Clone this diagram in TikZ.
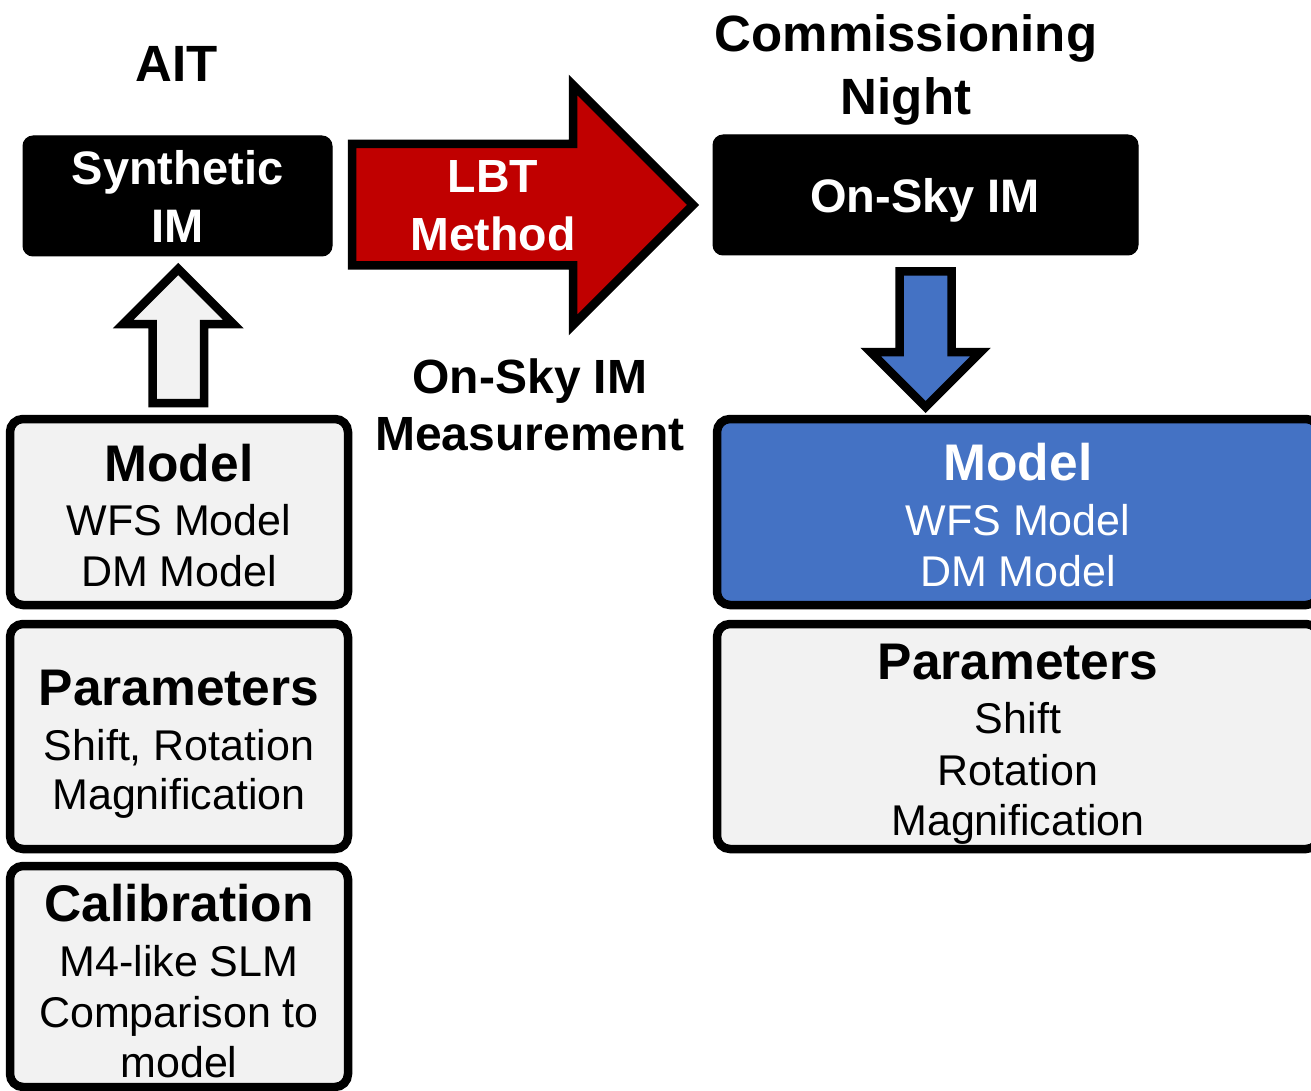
\documentclass[tikz,border=0pt]{standalone}
\usepackage{fontspec}
\setmainfont{Liberation Sans}
\definecolor{paper}{HTML}{F2F2F2}
\definecolor{lbtred}{HTML}{C00000}
\definecolor{skyblue}{HTML}{4472C4}
\begin{document}
\begin{tikzpicture}[x=1pt,y=-1pt,
  every node/.style={inner sep=0pt,outer sep=0pt},
  darkbox/.style={fill=black,draw=black,line width=1pt,rounded corners=10pt},
  framebox/.style={draw=black,line width=8.5pt,rounded corners=13pt,fill=paper},
  blockarrow/.style={draw=black,line width=8.5pt,line join=miter},
  title/.style={anchor=base,font=\fontsize{51}{60}\selectfont\bfseries},
  invtext/.style={anchor=base,text=white,font=\fontsize{47}{55}\selectfont\bfseries},
  head/.style={anchor=base,font=\fontsize{51.5}{60}\selectfont\bfseries},
  body/.style={anchor=base,font=\fontsize{43}{50}\selectfont}]
\useasboundingbox (0,0) rectangle (1311,1091);
\fill[white] (0,0) rectangle (1311,1091);

% column titles
\node[title] (ait) at (177,82) {AIT};
\node[title] (comm) at (906,52) {Commissioning};
\node[title] (night) at (906,115) {Night};

% black interaction-matrix boxes
\node[darkbox,minimum width=309pt,minimum height=120pt] (synth) at (177.5,196) {};
\node[invtext] (synthA) at (177.5,185) {Synthetic};
\node[invtext] (synthB) at (177.5,243) {IM};
\node[darkbox,minimum width=425pt,minimum height=120pt] (onsky) at (925.5,195) {};
\node[invtext] (onskyT) at (925,213) {On-Sky IM};

% red LBT method arrow
\draw[blockarrow,fill=lbtred] (352,144) -- (573,144) -- (573,85) -- (693,205)
  -- (573,325) -- (573,265.5) -- (352,265.5) -- cycle;
\node[invtext,font=\fontsize{46.5}{55}\selectfont\bfseries] (lbtA) at (493,193) {LBT};
\node[invtext,font=\fontsize{46.5}{55}\selectfont\bfseries] (lbtB) at (493,251) {Method};
\node[head,font=\fontsize{48}{56}\selectfont\bfseries] (measA) at (530,393) {On-Sky IM};
\node[head,font=\fontsize{48}{56}\selectfont\bfseries] (measB) at (530,450) {Measurement};

% left column: model, parameters, calibration
\node[framebox,minimum width=338pt,minimum height=186pt] (modelL) at (179,512) {};
\node[head] (modelLa) at (179,481) {Model};
\node[body] (modelLb) at (179,535) {WFS Model};
\node[body] (modelLc) at (179,586) {DM Model};

\node[framebox,minimum width=338pt,minimum height=225pt] (parL) at (179,736.5) {};
\node[head] (parLa) at (179,705) {Parameters};
\node[body] (parLb) at (179,760) {Shift, Rotation};
\node[body] (parLc) at (179,809) {Magnification};

\node[framebox,minimum width=338pt,minimum height=221pt] (cal) at (179,976.5) {};
\node[head] (calA) at (179,921) {Calibration};
\node[body] (calB) at (179,976) {M4-like SLM};
\node[body] (calC) at (179,1027) {Comparison to};
\node[body] (calD) at (179,1077) {model};

% grey arrow from the model up to the synthetic IM
\draw[blockarrow,fill=paper] (178.25,269) -- (233.25,324) -- (204,324) -- (204,403)
  -- (152.5,403) -- (152.5,324) -- (123.25,324) -- cycle;

% right column: fitted model and parameters
\node[framebox,fill=skyblue,minimum width=602pt,minimum height=186pt] (modelR) at (1018,512) {};
\node[head,text=white] (modelRa) at (1018,480) {Model};
\node[body,text=white] (modelRb) at (1018,535) {WFS Model};
\node[body,text=white] (modelRc) at (1018,586) {DM Model};

\node[framebox,minimum width=602pt,minimum height=225pt] (parR) at (1018,736.5) {};
\node[head] (parRa) at (1018,679) {Parameters};
\node[body] (parRb) at (1018,733) {Shift};
\node[body] (parRc) at (1018,785) {Rotation};
\node[body] (parRd) at (1018,835) {Magnification};

% blue arrow from the on-sky IM down to the model
\draw[blockarrow,fill=skyblue] (899.5,271.5) -- (951.5,271.5) -- (951.5,352) -- (980.5,352)
  -- (925.5,407) -- (870.5,352) -- (899.5,352) -- cycle;
\end{tikzpicture}
\end{document}
